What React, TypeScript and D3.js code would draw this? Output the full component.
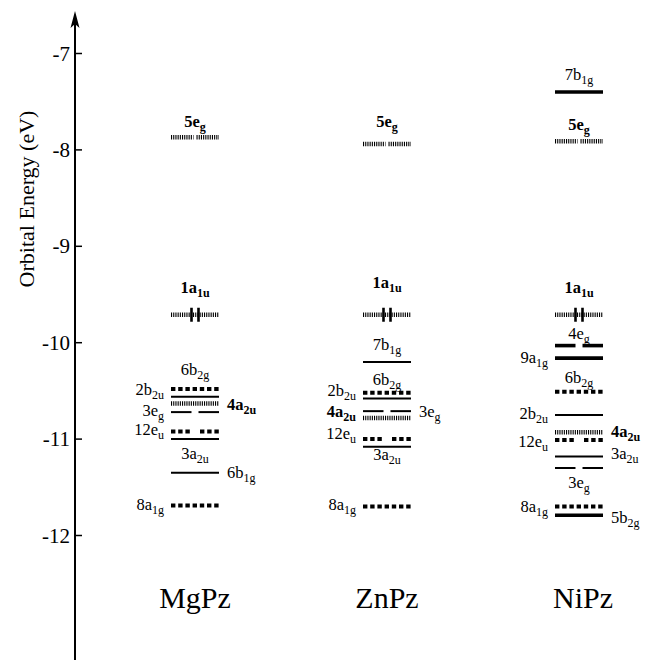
import React, { useEffect, useRef } from 'react';
import * as d3 from 'd3';

// Molecules (columns)
const compounds = ['MgPz', 'ZnPz', 'NiPz'];

// Orbital energies (eV)
const mgPzLevels: [string, number][] = [
  ['5eg', -7.87],
  ['1a1u', -9.71],
  ['6b2g', -10.48],
  ['2b2u', -10.56],
  ['4a2u', -10.63],
  ['3eg', -10.72],
  ['12eu', -10.92],
  ['3a2u', -11.0],
  ['6b1g', -11.35],
  ['8a1g', -11.69],
];

const znPzLevels: [string, number][] = [
  ['5eg', -7.94],
  ['1a1u', -9.71],
  ['7b1g', -10.2],
  ['6b2g', -10.52],
  ['2b2u', -10.58],
  ['3eg', -10.71],
  ['4a2u', -10.78],
  ['12eu', -11.0],
  ['3a2u', -11.08],
  ['8a1g', -11.7],
];

const niPzLevels: [string, number][] = [
  ['7b1g', -7.4],
  ['5eg', -7.91],
  ['1a1u', -9.71],
  ['4eg', -10.03],
  ['9a1g', -10.16],
  ['6b2g', -10.51],
  ['2b2u', -10.75],
  ['4a2u', -10.93],
  ['12eu', -11.01],
  ['3a2u', -11.18],
  ['3eg', -11.3],
  ['8a1g', -11.7],
  ['5b2g', -11.79],
];

const yTicks = [-7, -8, -9, -10, -11, -12];
const homo = '1a1u';
const boldLabels = ['5eg', '1a1u', '4a2u'];

// line look + label placement: [kind, side, dy]
const layout: Record<string, [string, string, number]> = {
  'MgPz:5eg': ['hatch', 'above', -10],
  'MgPz:1a1u': ['hatch', 'above', -22],
  'MgPz:6b2g': ['dot', 'above', -14],
  'MgPz:2b2u': ['solid', 'left', -2],
  'MgPz:4a2u': ['hatch', 'right', 7],
  'MgPz:3eg': ['solid', 'left', 4],
  'MgPz:12eu': ['dot', 'left', 4],
  'MgPz:3a2u': ['solid', 'below', 20],
  'MgPz:6b1g': ['solid', 'right', 5],
  'MgPz:8a1g': ['dot', 'left', 4],

  'ZnPz:5eg': ['hatch', 'above', -17],
  'ZnPz:1a1u': ['hatch', 'above', -27],
  'ZnPz:7b1g': ['solid', 'above', -12],
  'ZnPz:6b2g': ['dot', 'above', -8],
  'ZnPz:2b2u': ['solid', 'left', -3],
  'ZnPz:3eg': ['solid', 'right', 6],
  'ZnPz:4a2u': ['hatch', 'left', -1],
  'ZnPz:12eu': ['dot', 'left', 0],
  'ZnPz:3a2u': ['solid', 'below', 13],
  'ZnPz:8a1g': ['dot', 'left', 3],

  'NiPz:7b1g': ['thick', 'above', -12],
  'NiPz:5eg': ['hatch', 'above', -11],
  'NiPz:1a1u': ['hatch', 'above', -22],
  'NiPz:4eg': ['thick', 'above', -7],
  'NiPz:9a1g': ['thick', 'left', 5],
  'NiPz:6b2g': ['dot', 'above', -9],
  'NiPz:2b2u': ['solid', 'left', 4],
  'NiPz:4a2u': ['hatch', 'right', 5],
  'NiPz:12eu': ['dot', 'left', 7],
  'NiPz:3a2u': ['solid', 'right', 3],
  'NiPz:3eg': ['solid', 'below', 20],
  'NiPz:8a1g': ['dot', 'left', 5],
  'NiPz:5b2g': ['thick', 'right', 8],
};

const strokeStyle: Record<string, { w: number; dash: string | null; gap: number }> = {
  dot: { w: 4, dash: '4.4,2.8', gap: 10 },
  hatch: { w: 4.5, dash: '1.1,1.1', gap: 3 },
  solid: { w: 2, dash: null, gap: 7 },
  thick: { w: 3.6, dash: null, gap: 7 },
};

const FONT = 'Liberation Serif, DejaVu Serif, serif';

const App = () => {
  const chartRef = useRef<SVGSVGElement | null>(null);

  useEffect(() => {
    const width = 648;
    const height = 660;
    const halfW = 24;

    const svg = d3.select(chartRef.current);
    svg.selectAll('*').remove();
    svg.attr('font-family', FONT);

    const x = d3.scalePoint<string>().domain(compounds).range([195, 579]);
    const y = d3.scaleLinear().domain([-7, -12]).range([53.5, 535.5]);

    // axis line + arrow
    const axisX = 75;
    svg
      .append('line')
      .attr('x1', axisX)
      .attr('x2', axisX)
      .attr('y1', 22)
      .attr('y2', height)
      .attr('stroke', '#000')
      .attr('stroke-width', 2);
    svg
      .append('path')
      .attr('d', `M${axisX},11 L${axisX - 4.5},28 L${axisX},24 L${axisX + 4.5},28 Z`)
      .attr('fill', '#000');

    // ticks
    const tick = svg.append('g');
    tick
      .selectAll('line')
      .data(yTicks)
      .enter()
      .append('line')
      .attr('x1', axisX)
      .attr('x2', axisX + 7)
      .attr('y1', d => y(d))
      .attr('y2', d => y(d))
      .attr('stroke', '#000')
      .attr('stroke-width', 1.5);
    tick
      .selectAll('text')
      .data(yTicks)
      .enter()
      .append('text')
      .attr('x', 70)
      .attr('y', d => y(d) + 7)
      .attr('text-anchor', 'end')
      .attr('font-family', FONT)
      .attr('font-size', 21)
      .text(d => `-${Math.abs(d)}`);

    // axis title
    svg
      .append('text')
      .attr('transform', `translate(34,199) rotate(-90)`)
      .attr('text-anchor', 'middle')
      .attr('font-family', FONT)
      .attr('font-size', 22)
      .text('Orbital Energy (eV)');

    const allLevels: [string, [string, number][]][] = [
      ['MgPz', mgPzLevels],
      ['ZnPz', znPzLevels],
      ['NiPz', niPzLevels],
    ];

    allLevels.forEach(([comp, levels]) => {
      const cx = x(comp) as number;
      const x0 = cx - halfW;
      const x1 = cx + halfW;
      const g = svg.append('g');

      levels.forEach(([name, energy]) => {
        const [kind, side, dy] = layout[`${comp}:${name}`];
        const st = strokeStyle[kind];
        const ly = y(energy);
        const degenerate = /^\d+e/.test(name);
        const segs = degenerate
          ? [
              [x0, cx - st.gap / 2],
              [cx + st.gap / 2, x1],
            ]
          : [[x0, x1]];

        g.selectAll(null)
          .data(segs)
          .enter()
          .append('line')
          .attr('x1', d => d[0])
          .attr('x2', d => d[1])
          .attr('y1', ly)
          .attr('y2', ly)
          .attr('stroke', '#000')
          .attr('stroke-width', st.w)
          .attr('stroke-dasharray', st.dash);

        // electron pair on HOMO
        if (name === homo) {
          g.selectAll(null)
            .data([-3.5, 3.5])
            .enter()
            .append('line')
            .attr('x1', d => cx + d)
            .attr('x2', d => cx + d)
            .attr('y1', ly - 7)
            .attr('y2', ly + 7)
            .attr('stroke', '#000')
            .attr('stroke-width', 2.6);
        }

        // label with subscript
        const m = name.match(/^(\d+[a-z])(.*)$/) as RegExpMatchArray;
        let lx = cx;
        let anchor = 'middle';
        if (side === 'left') {
          lx = x0 - 7;
          anchor = 'end';
        } else if (side === 'right') {
          lx = x1 + 8;
          anchor = 'start';
        }
        const bold = boldLabels.includes(name);
        const t = g
          .append('text')
          .attr('x', lx)
          .attr('y', ly + dy)
          .attr('text-anchor', anchor)
          .attr('font-family', FONT)
          .attr('font-size', 16.5)
          .attr('font-weight', bold ? 'bold' : 'normal');
        t.append('tspan').text(m[1]);
        t.append('tspan').attr('dy', 4).attr('font-size', 12).text(m[2]);
      });
    });

    // compound names
    svg
      .append('g')
      .selectAll('text')
      .data(compounds)
      .enter()
      .append('text')
      .attr('x', d => (x(d) as number) + (d === 'NiPz' ? 4 : 0))
      .attr('y', 608)
      .attr('text-anchor', 'middle')
      .attr('font-family', FONT)
      .attr('font-size', 30)
      .text(d => d);

    svg.attr('width', width).attr('height', height);
  }, []);

  return (
    <svg
      ref={chartRef}
      style={{ position: 'absolute', left: 0, top: 0, background: '#fff' }}
    ></svg>
  );
};

export default App;
